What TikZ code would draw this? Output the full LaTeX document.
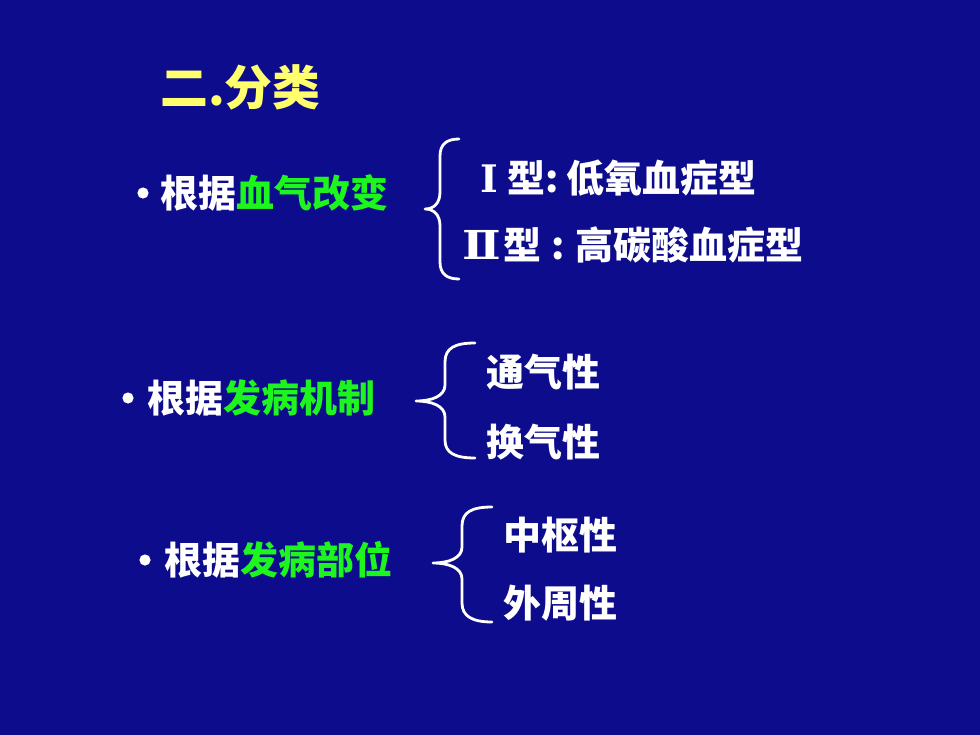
\documentclass[tikz,border=0pt]{standalone}
\usepackage{fontspec}
\newfontfamily\cjk{Noto Sans CJK SC Black}
\newfontfamily\dvser{DejaVu Serif}
\definecolor{bg}{RGB}{12,12,140}
\definecolor{grn}{RGB}{30,245,30}
\definecolor{ttl}{RGB}{255,255,110}
\begin{document}
\begin{tikzpicture}[x=0.025cm,y=-0.025cm,
  txt/.style={anchor=west,inner sep=0pt,text=white,font=\cjk\fontsize{27}{30}\selectfont},
  ttlstyle/.style={anchor=west,inner sep=0pt,text=ttl,font=\cjk\fontsize{34}{38}\selectfont},
  brc/.style={draw=white,line width=2pt,line cap=round,line join=round},
  dot/.style={fill=white}]
\fill[bg] (0,0) rectangle (980,735);
\useasboundingbox (0,0) rectangle (980,735);
% title
\node[ttlstyle] (title) at (160,87) {二.分类};
% row 1
\fill[dot] (143,193) circle (0.14cm);
\node[txt] (b1) at (160,193) {根据\textcolor{grn}{血气改变}};
\node[txt] (t1a) at (480,178) {\makebox[0.675cm][l]{\dvser\bfseries I}型\makebox[0.525cm][l]{:}低氧血症型};
\node[txt] (t1b) at (462,245) {\makebox[1.025cm][l]{\scalebox{1.22}[1.05]{\dvser\bfseries I\kern-0.09em I}}型\makebox[0.85cm][c]{:}高碳酸血症型};
\coordinate (br1) at (425,209);
\draw[brc] (459,139) .. controls (447,139) and (440,144) .. (440,156) -- (440,192)
  .. controls (440,203) and (434,209) .. (br1)
  .. controls (434,209) and (440,215) .. (440,226) -- (440,262)
  .. controls (440,274) and (447,279) .. (459,279);
% row 2
\fill[dot] (128,398) circle (0.14cm);
\node[txt] (b2) at (147,398) {根据\textcolor{grn}{发病机制}};
\node[txt] (t2a) at (486,372) {通气性};
\node[txt] (t2b) at (486,442) {换气性};
\coordinate (br2) at (416,401);
\draw[brc] (475,343) .. controls (455,343) and (445,348) .. (445,362) -- (445,385)
  .. controls (445,396) and (432,401) .. (br2)
  .. controls (432,401) and (445,406) .. (445,417) -- (445,440)
  .. controls (445,453) and (455,458) .. (475,458);
% row 3
\fill[dot] (145,560) circle (0.14cm);
\node[txt] (b3) at (164,560) {根据\textcolor{grn}{发病部位}};
\node[txt] (t3a) at (503,535) {中枢性};
\node[txt] (t3b) at (503,603) {外周性};
\coordinate (br3) at (433,563);
\draw[brc] (492,507) .. controls (472,507) and (462,512) .. (462,526) -- (462,547)
  .. controls (462,558) and (449,563) .. (br3)
  .. controls (449,563) and (462,568) .. (462,579) -- (462,603)
  .. controls (462,616) and (472,622) .. (492,622);
\end{tikzpicture}
\end{document}
